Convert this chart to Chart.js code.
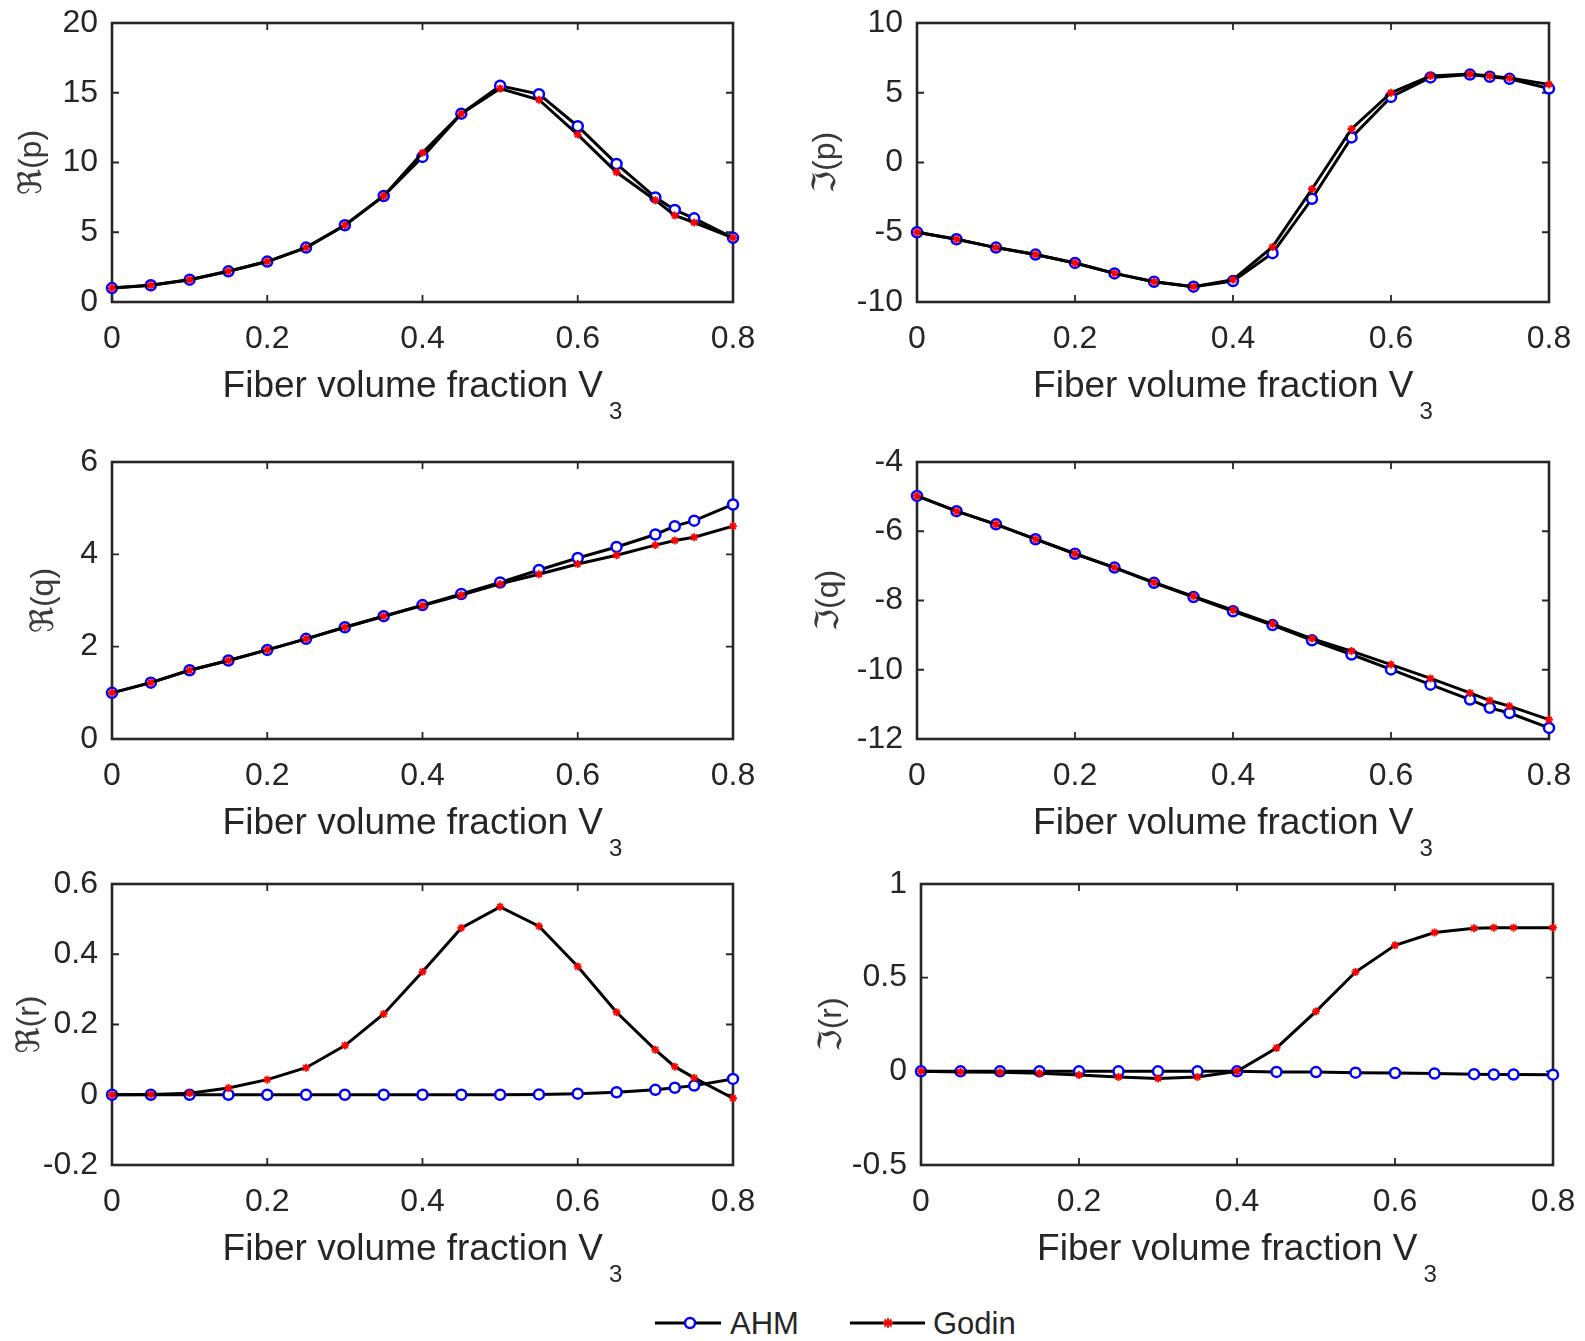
<!DOCTYPE html>
<html>
<head>
<meta charset="utf-8">
<title>Effective coefficients vs fiber volume fraction</title>
<script src="https://cdn.jsdelivr.net/npm/chart.js@4.4.1/dist/chart.umd.min.js"></script>
<style>
  html, body { margin: 0; padding: 0; background: #ffffff; }
  body { width: 1585px; height: 1341px; position: relative; overflow: hidden; }
  canvas.panel { position: absolute; }
  #legend { position: absolute; left: 640px; top: 1300px; }
</style>
</head>
<body>
<svg id="legend" width="420" height="46" xmlns="http://www.w3.org/2000/svg">
  <line x1="15" y1="23" x2="81" y2="23" stroke="#000" stroke-width="3"/>
  <circle cx="50" cy="23" r="5" fill="#fff" stroke="#0000ff" stroke-width="2.5"/>
  <text x="90" y="23" dominant-baseline="central" font-family="Liberation Sans, Arial, sans-serif" font-size="31" fill="#262626">AHM</text>
  <line x1="210" y1="23" x2="285" y2="23" stroke="#000" stroke-width="3"/>
  <g stroke="#ff0000" stroke-width="1.8">
    <line x1="243" y1="23" x2="253" y2="23"/>
    <line x1="248" y1="18" x2="248" y2="28"/>
    <line x1="244.5" y1="19.5" x2="251.5" y2="26.5"/>
    <line x1="244.5" y1="26.5" x2="251.5" y2="19.5"/>
  </g>
  <text x="293" y="23" dominant-baseline="central" font-family="Liberation Sans, Arial, sans-serif" font-size="31" fill="#262626">Godin</text>
</svg>
<script>
// Fiber volume fraction V3 (shared abscissa of all six panels)
const fiberFraction = [0, 0.05, 0.1, 0.15, 0.2, 0.25, 0.3, 0.35, 0.4, 0.45, 0.5, 0.55, 0.6, 0.65, 0.7, 0.725, 0.75, 0.8];
const xTicks = [0, 0.2, 0.4, 0.6, 0.8];

// Re(p)
const reP_AHM   = [1.0, 1.2, 1.6, 2.2, 2.9, 3.9, 5.5, 7.6, 10.4, 13.5, 15.5, 14.9, 12.6, 9.9, 7.5, 6.6, 6.0, 4.6];
const reP_Godin = [1.0, 1.2, 1.6, 2.2, 2.9, 3.9, 5.5, 7.6, 10.7, 13.5, 15.3, 14.5, 12.0, 9.3, 7.3, 6.2, 5.7, 4.6];
const reP_ticks = [0, 5, 10, 15, 20];

// Im(p)
const imP_AHM   = [-5.0, -5.5, -6.1, -6.6, -7.2, -7.95, -8.55, -8.9, -8.5, -6.5, -2.6, 1.8, 4.7, 6.1, 6.3, 6.15, 6.0, 5.3];
const imP_Godin = [-5.0, -5.5, -6.1, -6.6, -7.2, -7.95, -8.55, -8.9, -8.4, -6.05, -1.9, 2.4, 5.0, 6.2, 6.35, 6.2, 6.05, 5.6];
const imP_ticks = [-10, -5, 0, 5, 10];

// Re(q)
const reQ_AHM   = [1.0, 1.22, 1.49, 1.70, 1.93, 2.17, 2.42, 2.66, 2.90, 3.14, 3.39, 3.66, 3.92, 4.16, 4.43, 4.61, 4.73, 5.08];
const reQ_Godin = [1.0, 1.22, 1.49, 1.70, 1.93, 2.17, 2.42, 2.66, 2.89, 3.12, 3.36, 3.57, 3.79, 3.98, 4.20, 4.30, 4.37, 4.61];
const reQ_ticks = [0, 2, 4, 6];

// Im(q)
const imQ_AHM   = [-4.98, -5.42, -5.80, -6.23, -6.65, -7.05, -7.49, -7.90, -8.31, -8.71, -9.15, -9.56, -9.99, -10.43, -10.86, -11.10, -11.25, -11.68];
const imQ_Godin = [-4.98, -5.42, -5.80, -6.23, -6.65, -7.05, -7.48, -7.88, -8.28, -8.68, -9.10, -9.46, -9.85, -10.25, -10.67, -10.89, -11.05, -11.44];
const imQ_ticks = [-12, -10, -8, -6, -4];

// Re(r)
const reR_AHM   = [0, 0, 0, 0, 0, 0, 0, 0, 0, 0, 0, 0.001, 0.003, 0.007, 0.014, 0.02, 0.026, 0.045];
const reR_Godin = [0, 0.001, 0.004, 0.019, 0.043, 0.077, 0.14, 0.23, 0.35, 0.475, 0.535, 0.48, 0.365, 0.235, 0.128, 0.08, 0.048, -0.01];
const reR_ticks = [-0.2, 0, 0.2, 0.4, 0.6];

// Im(r)
const imR_AHM   = [0, 0, 0, 0, 0, 0, 0, 0, 0, -0.003, -0.004, -0.007, -0.009, -0.012, -0.015, -0.017, -0.017, -0.018];
const imR_Godin = [0, -0.003, -0.005, -0.01, -0.02, -0.03, -0.038, -0.03, 0, 0.125, 0.32, 0.53, 0.673, 0.741, 0.764, 0.767, 0.767, 0.767];
const imR_ticks = [-0.5, 0, 0.5, 1];

const xTitle = 'Fiber volume fraction V';
const xTitleSub = '3';

// Panel contents
const panels = [
  { label: 'ℜ(p)', ahm: reP_AHM, godin: reP_Godin, yTicks: reP_ticks },
  { label: 'ℑ(p)', ahm: imP_AHM, godin: imP_Godin, yTicks: imP_ticks },
  { label: 'ℜ(q)', ahm: reQ_AHM, godin: reQ_Godin, yTicks: reQ_ticks },
  { label: 'ℑ(q)', ahm: imQ_AHM, godin: imQ_Godin, yTicks: imQ_ticks },
  { label: 'ℜ(r)', ahm: reR_AHM, godin: reR_Godin, yTicks: reR_ticks },
  { label: 'ℑ(r)', ahm: imR_AHM, godin: imR_Godin, yTicks: imR_ticks }
];

// Page placement of each axes box (plot area) and of its y-label centre
const layout = [
  { l: 112, r: 733,  t: 23,  b: 302,  labelX: 32 },
  { l: 917, r: 1549, t: 23,  b: 302,  labelX: 826 },
  { l: 112, r: 733,  t: 462, b: 739,  labelX: 44 },
  { l: 917, r: 1549, t: 462, b: 739,  labelX: 829 },
  { l: 112, r: 733,  t: 884, b: 1165, labelX: 30 },
  { l: 921, r: 1553, t: 884, b: 1165, labelX: 832 }
];

const FONT = "'Liberation Sans', Arial, 'DejaVu Sans', sans-serif";
const TEXT = '#262626';
const TOP_PAD = 44;
const RIGHT_PAD = 50;

// Box around the axes with inward ticks on all four sides, plus the x label with subscript
const axesBox = {
  id: 'axesBox',
  beforeDatasetsDraw(chart) {
    const { ctx, chartArea: a, scales: { x, y } } = chart;
    ctx.save();
    ctx.strokeStyle = TEXT;
    ctx.lineWidth = 1.8;
    ctx.beginPath();
    x.ticks.forEach(t => {
      const px = x.getPixelForValue(t.value);
      ctx.moveTo(px, a.bottom); ctx.lineTo(px, a.bottom - 7);
      ctx.moveTo(px, a.top);    ctx.lineTo(px, a.top + 7);
    });
    y.ticks.forEach(t => {
      const py = y.getPixelForValue(t.value);
      ctx.moveTo(a.left, py);  ctx.lineTo(a.left + 7, py);
      ctx.moveTo(a.right, py); ctx.lineTo(a.right - 7, py);
    });
    ctx.stroke();
    ctx.lineWidth = 2.6;
    ctx.strokeRect(a.left, a.top, a.right - a.left, a.bottom - a.top);
    ctx.restore();
  },
  afterDraw(chart) {
    const { ctx, chartArea: a } = chart;
    ctx.save();
    ctx.fillStyle = TEXT;
    ctx.textBaseline = 'alphabetic';
    ctx.textAlign = 'left';
    ctx.font = '37px ' + FONT;
    const wMain = ctx.measureText(xTitle).width;
    ctx.font = '24px ' + FONT;
    const wSub = ctx.measureText(xTitleSub).width;
    const gap = 6;
    const x0 = (a.left + a.right) / 2 - (wMain + gap + wSub) / 2;
    const base = a.bottom + 95;
    ctx.font = '37px ' + FONT;
    ctx.fillText(xTitle, x0, base);
    ctx.font = '24px ' + FONT;
    ctx.fillText(xTitleSub, x0 + wMain + gap, base + 22);
    ctx.restore();
  }
};

panels.forEach((p, i) => {
  const g = layout[i];
  const cl = Math.round(g.labelX - 19.2);
  const ct = g.t - TOP_PAD;
  const cw = g.r + RIGHT_PAD - cl;
  const ch = g.b + 130 - ct;

  const canvas = document.createElement('canvas');
  canvas.className = 'panel';
  canvas.width = cw; canvas.height = ch;
  canvas.style.left = cl + 'px'; canvas.style.top = ct + 'px';
  canvas.style.width = cw + 'px'; canvas.style.height = ch + 'px';
  document.body.appendChild(canvas);

  const toPoints = ys => fiberFraction.map((v, k) => ({ x: v, y: ys[k] }));

  new Chart(canvas, {
    type: 'line',
    data: {
      datasets: [
        {
          label: 'Godin',
          data: toPoints(p.godin),
          order: 0,
          borderColor: '#000000',
          borderWidth: 3,
          pointStyle: 'star',
          pointRadius: 4,
          pointBorderWidth: 1.8,
          pointBorderColor: '#ff0000',
          pointBackgroundColor: '#ff0000',
          tension: 0,
          clip: false
        },
        {
          label: 'AHM',
          data: toPoints(p.ahm),
          order: 1,
          borderColor: '#000000',
          borderWidth: 3,
          pointStyle: 'circle',
          pointRadius: 5,
          pointBorderWidth: 2.5,
          pointBorderColor: '#0000ff',
          pointBackgroundColor: '#ffffff',
          tension: 0,
          clip: false
        }
      ]
    },
    options: {
      responsive: false,
      animation: false,
      devicePixelRatio: 1,
      events: [],
      layout: { padding: { left: 0, top: TOP_PAD, right: RIGHT_PAD, bottom: 0 } },
      plugins: { legend: { display: false }, tooltip: { enabled: false } },
      scales: {
        x: {
          type: 'linear',
          min: xTicks[0],
          max: xTicks[xTicks.length - 1],
          afterBuildTicks: s => { s.ticks = xTicks.map(v => ({ value: v })); },
          afterFit: s => { s.height = ch - (g.b - ct); },
          grid: { display: false, drawTicks: false },
          border: { display: false },
          ticks: {
            padding: 18,
            color: TEXT,
            font: { family: FONT, size: 32 },
            maxRotation: 0,
            autoSkip: false,
            callback: v => String(v)
          }
        },
        y: {
          type: 'linear',
          min: p.yTicks[0],
          max: p.yTicks[p.yTicks.length - 1],
          afterBuildTicks: s => { s.ticks = p.yTicks.map(v => ({ value: v })); },
          afterFit: s => { s.width = g.l - cl; },
          grid: { display: false, drawTicks: false },
          border: { display: false },
          title: {
            display: true,
            text: p.label,
            color: '#3a3a3a',
            font: { family: FONT, size: 32 },
            padding: { top: 0, bottom: 0 }
          },
          ticks: {
            padding: 14,
            color: TEXT,
            font: { family: FONT, size: 32 },
            autoSkip: false,
            callback: v => String(v)
          }
        }
      }
    },
    plugins: [axesBox]
  });
});
</script>
</body>
</html>
